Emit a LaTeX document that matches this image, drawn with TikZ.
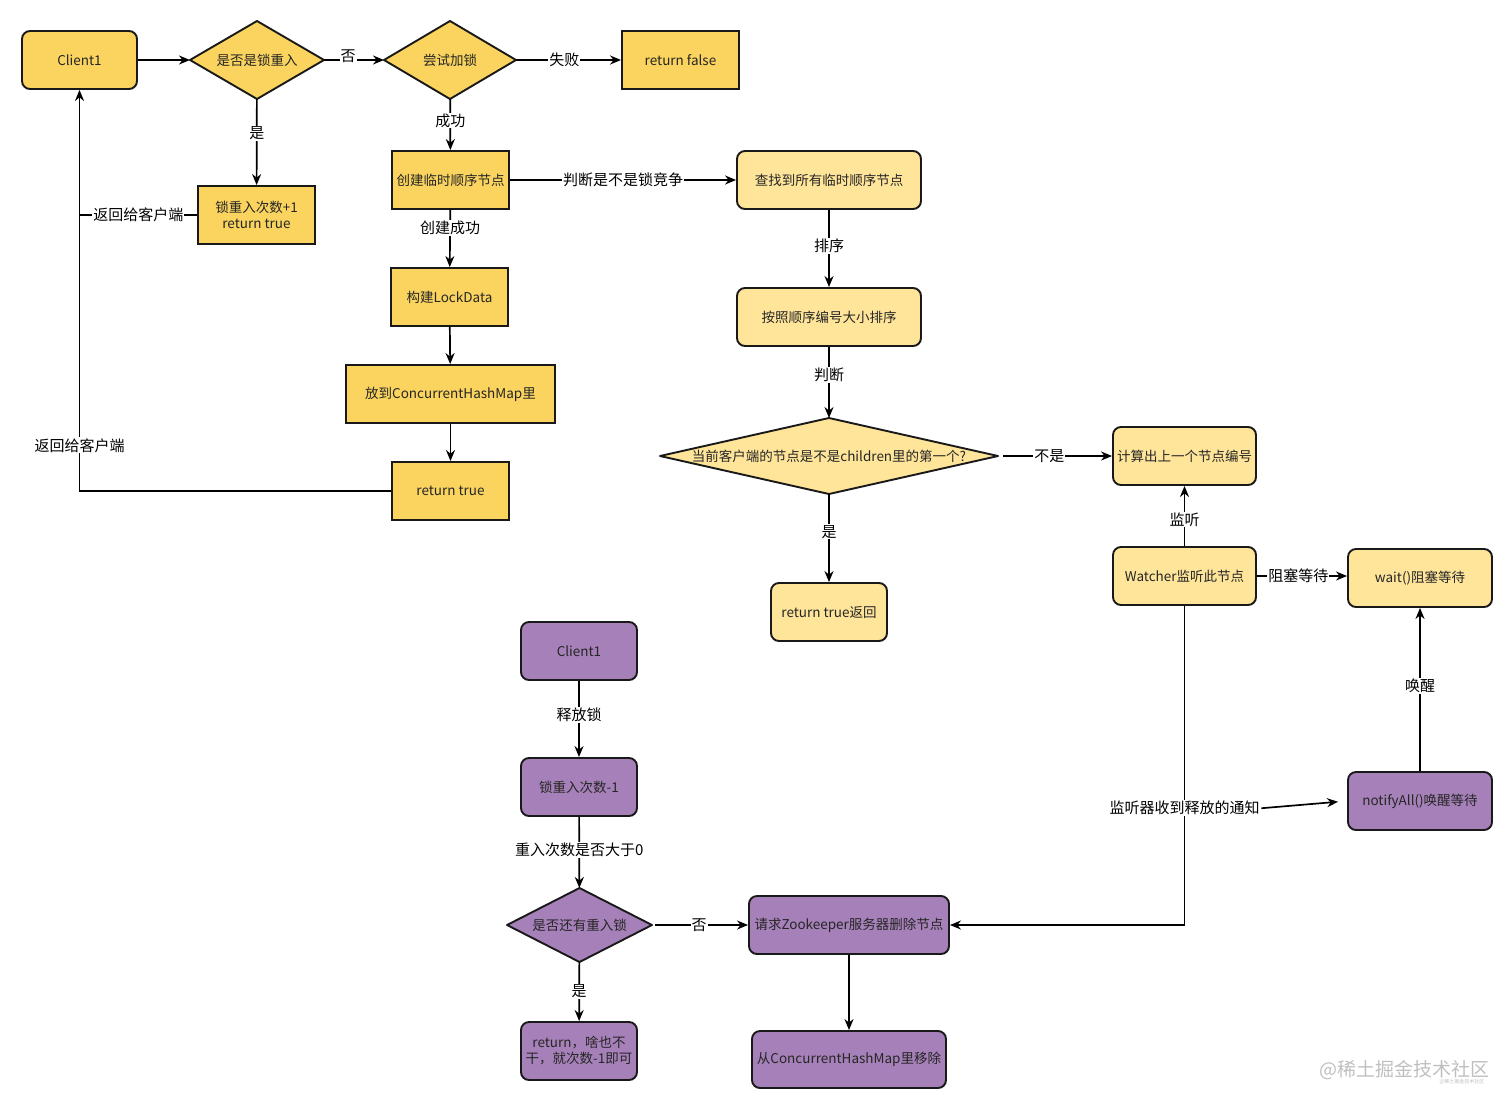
\documentclass[tikz,border=0pt]{standalone}
\usepackage{fontspec}
\setmainfont{Noto Sans CJK SC}
\usetikzlibrary{arrows.meta,backgrounds,calc}
\definecolor{ys}{HTML}{FAD45E}
\definecolor{yl}{HTML}{FFE59A}
\definecolor{pp}{HTML}{A680B8}
\begin{document}
\begin{tikzpicture}[x=1pt,y=-1pt,
  box/.style={draw=black!90, line width=1.9pt, minimum height=58pt, text=black!85,
    font=\fontsize{13.5}{16}\selectfont, align=center, inner sep=2pt},
  sq/.style={box, fill=ys},
  sqr/.style={box, fill=ys, rounded corners=8pt},
  rd/.style={box, fill=yl, rounded corners=8pt},
  pu/.style={box, fill=pp, rounded corners=8pt},
  dia/.style={outer sep=0pt, inner sep=0pt, text=black!85, font=\fontsize{13.5}{16}\selectfont, align=center},
  lbl/.style={fill=white, font=\fontsize{15}{18}\selectfont, inner sep=1pt},
  arr/.style={-{Stealth[length=11pt,width=9pt]}, line width=1.7pt},
  ln/.style={line width=1.7pt},
  wm/.style={text=black!25}
]
\useasboundingbox (0,0) rectangle (1512,1109);

% top-left flow
\node[sqr, minimum width=115pt] (c1) at (79.5,60) {Client1};
\node[dia, minimum width=134pt, minimum height=78pt] (d1) at (257,60) {是否是锁重入};
\node[dia, minimum width=132pt, minimum height=78pt] (d2) at (450,60) {尝试加锁};
\node[sq, minimum width=117pt] (rf) at (680.5,60) {return false};
\node[sq, minimum width=117pt] (re) at (256.5,215) {锁重入次数+1\\return true};
\node[sq, minimum width=117pt] (cj) at (450.5,180) {创建临时顺序节点};
\node[sq, minimum width=117pt] (ld) at (449.5,297) {构建LockData};
\node[sq, minimum width=209pt] (chm) at (450.5,394) {放到ConcurrentHashMap里};
\node[sq, minimum width=117pt] (rt) at (450.5,491) {return true};

% right flow
\node[rd, minimum width=184pt] (cz) at (829,180) {查找到所有临时顺序节点};
\node[rd, minimum width=184pt] (px) at (829,317) {按照顺序编号大小排序};
\node[dia, minimum width=338pt, minimum height=76pt] (d3) at (829,456) {当前客户端的节点是不是children里的第一个?};
\node[rd, minimum width=116pt] (rtf) at (829,612) {return true返回};
\node[rd, minimum width=143pt] (js) at (1184.5,456) {计算出上一个节点编号};
\node[rd, minimum width=143pt] (wt) at (1184.5,576) {Watcher监听此节点};
\node[rd, minimum width=144pt] (wa) at (1420,578) {wait()阻塞等待};
\node[pu, minimum width=144pt] (nt) at (1420,801) {notifyAll()唤醒等待};

% release flow
\node[pu, minimum width=116pt] (c2) at (579,651) {Client1};
\node[pu, minimum width=116pt] (jc) at (579,787) {锁重入次数-1};
\node[dia, minimum width=145pt, minimum height=74pt] (d4) at (579.5,925) {是否还有重入锁};
\node[pu, minimum width=116pt] (rn) at (579,1051) {return，啥也不\\干，就次数-1即可};
\node[pu, minimum width=200pt] (rq) at (849,925) {请求Zookeeper服务器删除节点};
\node[pu, minimum width=194pt, minimum height=57pt] (rm) at (849,1059.5) {从ConcurrentHashMap里移除};

\begin{scope}[on background layer]
  \foreach \n/\c in {d1/ys,d2/ys,d3/yl,d4/pp}
    \filldraw[fill=\c, draw=black!90, line width=1.9pt, line join=round]
      (\n.north) -- (\n.east) -- (\n.south) -- (\n.west) -- cycle;
\end{scope}

% connectors (top-left)
\draw[arr] (c1) -- (d1);
\draw[arr] (d1) -- node[lbl, pos=0.4, yshift=4pt]{否} (d2);
\draw[arr] (d2) -- node[lbl, pos=0.46]{失败} (rf);
\draw[arr] (d1) -- node[lbl, pos=0.4]{是} (re);
\draw[arr] (d2) -- node[lbl, pos=0.42]{成功} (cj);
\draw[ln] (re.west) -- node[lbl]{返回给客户端} (re.west -| c1.south);
\draw[arr] (rt.west) -| node[lbl, pos=0.557]{返回给客户端} (c1.south);
\draw[arr] (cj) -- node[lbl]{判断是不是锁竞争} (cz);
\draw[arr] (cj) -- node[lbl, pos=0.32]{创建成功} (ld);
\draw[arr] (ld) -- (chm);
\draw[arr] (chm) -- (rt);

% connectors (right)
\draw[arr] (cz) -- node[lbl, pos=0.47]{排序} (px);
\draw[arr] (px) -- node[lbl, pos=0.39]{判断} (d3);
\draw[arr] (d3) -- node[lbl, pos=0.43]{是} (rtf);
\draw[arr, shorten <=5pt] (d3) -- node[lbl, pos=0.45]{不是} (js);
\draw[arr] (wt) -- node[lbl, pos=0.44]{监听} (js);
\draw[arr] (wt.east) -- node[lbl, pos=0.46]{阻塞等待} (wt.east -| wa.west);
\draw[arr] (nt) -- node[lbl, pos=0.52]{唤醒} (wa);
\draw[arr] (wt.south) |- node[lbl, pos=0.317] (lst) {监听器收到释放的通知} (rq.east);
\draw[arr, shorten >=9pt] (lst.east) -- (nt.west);

% connectors (release)
\draw[arr] (c2) -- node[lbl, pos=0.45]{释放锁} (jc);
\draw[arr] (jc) -- node[lbl, pos=0.46]{重入次数是否大于0} (d4);
\draw[arr] (d4) -- node[lbl, pos=0.5]{是} (rn);
\draw[arr, shorten <=3pt] (d4) -- node[lbl, pos=0.49]{否} (rq);
\draw[arr] (rq) -- (rm);

% watermark
\node[wm, font=\fontsize{19}{22}\selectfont, inner sep=0pt] (wm1) at (1404,1070) {@稀土掘金技术社区};
\node[wm, font=\fontsize{5}{6}\selectfont, inner sep=0pt] (wm2) at (1462,1082) {@稀土掘金技术社区};
\end{tikzpicture}
\end{document}
